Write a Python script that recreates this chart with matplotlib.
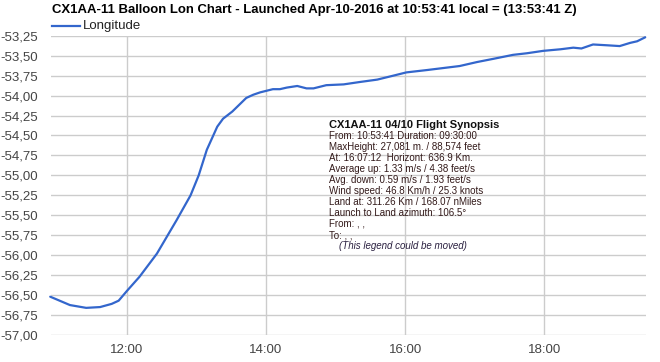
import matplotlib
matplotlib.use("Agg")
import matplotlib.pyplot as plt
import matplotlib.dates as mdates
import pandas as pd

# ---- data ----
times = ["10:54", "11:11", "11:25", "11:37", "11:47", "11:53", "12:00", "12:11",
         "12:26", "12:43", "12:55", "13:02", "13:09", "13:18", "13:23", "13:31",
         "13:43", "13:49", "13:55", "14:06", "14:12", "14:18", "14:27", "14:35",
         "14:41", "14:52", "15:07", "15:21", "15:36", "15:50", "16:01", "16:19",
         "16:47", "17:02", "17:16", "17:33", "17:45", "17:59", "18:14", "18:25",
         "18:32", "18:42", "18:54", "19:05", "19:14", "19:20", "19:27"]
lon = [-56.52, -56.625, -56.66, -56.65, -56.61, -56.57, -56.45, -56.27,
       -55.98, -55.56, -55.25, -55.00, -54.68, -54.39, -54.29, -54.20,
       -54.03, -53.99, -53.96, -53.92, -53.92, -53.90, -53.88, -53.91,
       -53.91, -53.87, -53.86, -53.83, -53.80, -53.75, -53.71, -53.68,
       -53.63, -53.58, -53.54, -53.49, -53.47, -53.44, -53.42, -53.40,
       -53.41, -53.36, -53.37, -53.38, -53.34, -53.32, -53.27]
y_ticks = [-57.00, -56.75, -56.50, -56.25, -56.00, -55.75, -55.50, -55.25,
           -55.00, -54.75, -54.50, -54.25, -54.00, -53.75, -53.50, -53.25]
x_ticks = ["12:00", "14:00", "16:00", "18:00"]
series_name = "Longitude"
title = "CX1AA-11 Balloon Lon Chart - Launched Apr-10-2016 at 10:53:41 local = (13:53:41 Z)"
synopsis_title = "CX1AA-11 04/10 Flight Synopsis"
synopsis_lines = [
    "From: 10:53:41 Duration: 09:30:00",
    "MaxHeight: 27,081 m. / 88,574 feet",
    "At: 16:07:12  Horizont: 636.9 Km.",
    "Average up: 1.33 m/s / 4.38 feet/s",
    "Avg. down: 0.59 m/s / 1.93 feet/s",
    "Wind speed: 46.8 Km/h / 25.3 knots",
    "Land at: 311.26 Km / 168.07 nMiles",
    "Launch to Land azimuth: 106.5\u00b0",
    "From: , ,",
    "To: , ,",
]
synopsis_note = "(This legend could be moved)"

day = "2016-04-10 "
t = pd.to_datetime([day + s for s in times])
xt = pd.to_datetime([day + s for s in x_ticks])

plt.rcParams['font.family'] = ['Liberation Sans', 'DejaVu Sans']

W, H = 660, 362
fig = plt.figure(figsize=(W / 100, H / 100), dpi=100)
fig.patch.set_facecolor('white')
ax = fig.add_axes([51 / W, 1 - 335 / H, (645.7 - 51) / W, (335 - 35.7) / H])

ax.plot(t, lon, color='#3366cc', lw=1.6, clip_on=False, solid_capstyle='round',
        solid_joinstyle='round')

ax.set_xlim(pd.Timestamp(day + "10:54:40"), pd.Timestamp(day + "19:27:25"))
ax.set_ylim(-57.0, -53.25)
ax.set_yticks(y_ticks)
ax.set_yticklabels([f"{v:.2f}".replace('.', ',') for v in y_ticks])
ax.set_xticks(xt)
ax.xaxis.set_major_formatter(mdates.DateFormatter('%H:%M'))

ax.grid(True, color='#cccccc', lw=1)
ax.set_axisbelow(True)
for s in ax.spines.values():
    s.set_visible(False)
ax.tick_params(axis='both', length=0, labelsize=9.5, colors='#444444')
ax.tick_params(axis='y', pad=9.5)
ax.tick_params(axis='x', pad=6.5)

# title
fig.text(52 / W, 1 - 9.5 / H, title, ha='left', va='center', fontsize=9.45,
         fontweight='bold', color='#000000')

# legend
fig.lines.append(plt.Line2D([52 / W, 80 / W], [1 - 26 / H, 1 - 26 / H],
                            transform=fig.transFigure, color='#3366cc', lw=1.6))
fig.text(83 / W, 1 - 26 / H, series_name, ha='left', va='center', fontsize=9.5,
         color='#222222')

# synopsis box
x0 = 329 / W
fig.text(x0, 1 - 125 / H, synopsis_title, ha='left', va='center', fontsize=8.0,
         fontweight='bold', color='#111111')
for i, line in enumerate(synopsis_lines):
    y = 125 + 11 * (i + 1)
    fig.text(x0, 1 - y / H, line, ha='left', va='center', fontsize=7.0,
             color='#331a1a')
fig.text(339 / W, 1 - (125 + 11 * 11) / H, synopsis_note, ha='left', va='center',
         fontsize=7.0, style='italic', color='#2a2040')

fig.savefig("out.png", dpi=100, facecolor='white')
